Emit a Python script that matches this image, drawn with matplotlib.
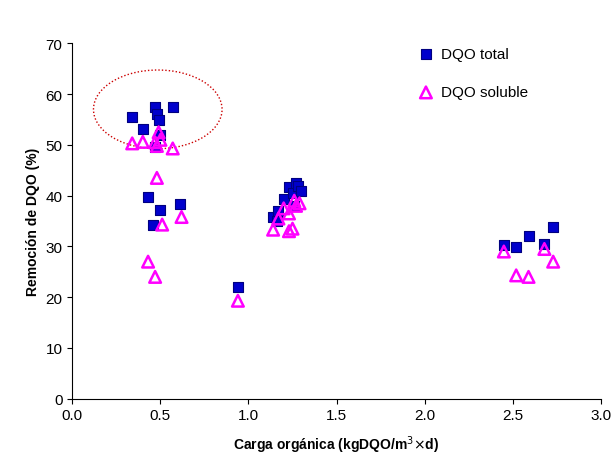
import matplotlib.pyplot as plt
from matplotlib.patches import Ellipse

plt.rcParams['font.family'] = ['Liberation Sans', 'DejaVu Sans']

# DQO total
tot_x = [0.34, 0.40, 0.47, 0.48, 0.49, 0.47, 0.57, 0.50, 0.43, 0.50, 0.61, 0.46,
         0.94, 1.14, 1.17, 1.20, 1.23, 1.25, 1.27, 1.28, 1.30, 1.26, 1.16,
         2.45, 2.52, 2.59, 2.68, 2.73]
tot_y = [55.5, 53.2, 57.5, 56.0, 55.0, 49.5, 57.5, 52.0, 39.7, 37.2, 38.3, 34.2,
         22.1, 35.8, 37.0, 39.3, 41.8, 40.5, 42.5, 42.0, 41.0, 38.0, 35.0,
         30.2, 29.8, 32.0, 30.5, 33.9]
# DQO soluble
sol_x = [0.34, 0.40, 0.47, 0.49, 0.50, 0.48, 0.57, 0.48, 0.43, 0.47, 0.51, 0.62,
         0.94, 1.14, 1.17, 1.20, 1.23, 1.26, 1.27, 1.29, 1.25, 1.23,
         2.45, 2.52, 2.59, 2.68, 2.73]
sol_y = [50.3, 50.6, 50.5, 52.5, 51.0, 49.8, 49.3, 43.5, 27.0, 24.0, 34.3, 35.8,
         19.3, 33.3, 35.5, 37.5, 36.5, 39.0, 38.0, 38.5, 33.5, 33.0,
         29.0, 24.3, 24.0, 29.5, 27.0]

fig = plt.figure(figsize=(6.13, 4.77), dpi=100)
ax = fig.add_axes([0.118, 0.162, 0.862, 0.745])
ax.scatter(tot_x, tot_y, marker='s', s=60, color='#0000cc', edgecolors='#000080',
           linewidths=0.8, label='DQO total', zorder=3)
ax.scatter(sol_x, sol_y, marker='^', s=70, facecolors='none', edgecolors='#ff00ff',
           linewidths=1.8, label='DQO soluble', zorder=4)
ax.add_patch(Ellipse((0.485, 57.0), 0.73, 15.5, fill=False, edgecolor='#cc0000',
                     linestyle=(0, (1, 1.5)), linewidth=1.0))

ax.set_xlim(0, 3.0)
ax.set_ylim(0, 70)
ax.set_xticks([0.0, 0.5, 1.0, 1.5, 2.0, 2.5, 3.0])
ax.set_xticklabels(['0.0', '0.5', '1.0', '1.5', '2.0', '2.5', '3.0'])
ax.set_yticks(range(0, 71, 10))
ax.tick_params(labelsize=11, direction='out')
for s in ['top', 'right']:
    ax.spines[s].set_visible(False)
ax.set_xlabel(r'Carga orgánica (kgDQO/m$^3$$\times$d)', fontweight='bold', fontsize=10, labelpad=8)
ax.set_ylabel('Remoción de DQO (%)', fontweight='bold', fontsize=10)
ax.legend(loc='upper left', bbox_to_anchor=(0.62, 1.02), frameon=False, fontsize=11,
          handletextpad=0.0, labelspacing=1.6, borderpad=0.2)
fig.savefig('out.png', dpi=100)
